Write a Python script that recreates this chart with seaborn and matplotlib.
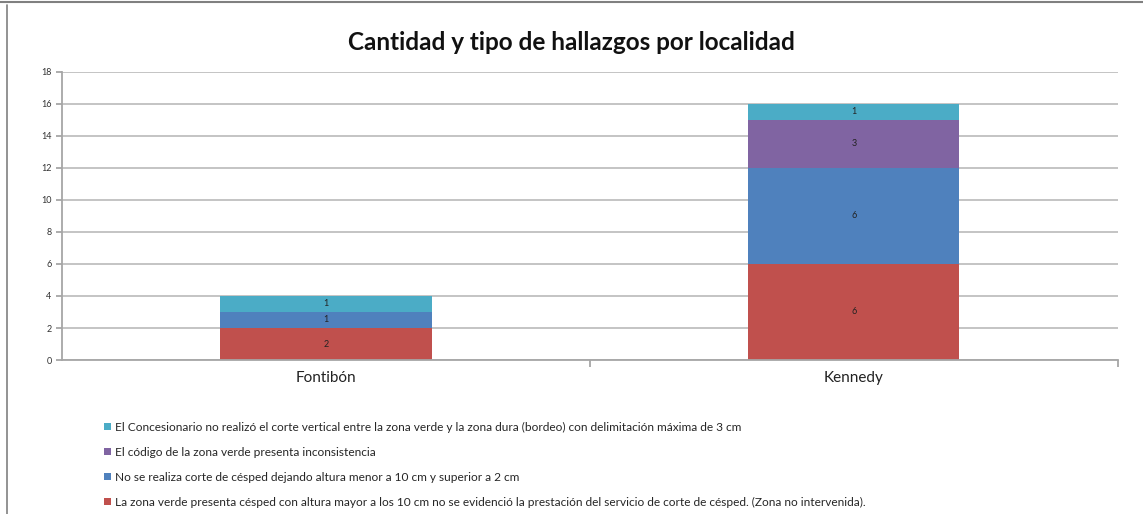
import matplotlib
matplotlib.use("Agg")
import matplotlib.pyplot as plt
from matplotlib.lines import Line2D
import pandas as pd
import seaborn as sns

# Datos
localidades = ["Fontibón", "Kennedy"]
series = [
    "La zona verde presenta césped con altura mayor a los 10 cm no se evidenció la prestación del servicio de corte de césped. (Zona no intervenida).",
    "No se realiza corte de césped dejando altura menor a 10 cm y superior a 2 cm",
    "El código de la zona verde presenta inconsistencia",
    "El Concesionario no realizó el corte vertical entre la zona verde y la zona dura (bordeo) con delimitación máxima de 3 cm",
]
valores_rojo = [2, 6]
valores_azul = [1, 6]
valores_morado = [0, 3]
valores_cian = [1, 1]
colores = ["#C0504D", "#4F81BD", "#8064A2", "#4BACC6"]

sns.set_theme(style="white")
plt.rcParams["font.family"] = ["Lato", "DejaVu Sans"]

df = pd.DataFrame({"localidad": localidades})
valores = [valores_rojo, valores_azul, valores_morado, valores_cian]
acum = [0, 0]
for serie, vals in zip(series, valores):
    acum = [a + v for a, v in zip(acum, vals)]
    df[serie] = acum

fig = plt.figure(figsize=(11.43, 5.14), dpi=100)
ax = fig.add_axes([0.0542, 0.2996, 0.9238, 0.5604])

# Barras apiladas: se dibuja primero la acumulada más alta
for serie, color in reversed(list(zip(series, colores))):
    sns.barplot(data=df, x="localidad", y=serie, color=color, width=0.4,
                linewidth=0, saturation=1, ax=ax, label=serie)
if ax.get_legend() is not None:
    ax.get_legend().remove()

# Etiquetas de datos centradas en cada segmento
base = [0, 0]
for vals in valores:
    for i, v in enumerate(vals):
        if v > 0:
            ax.text(i, base[i] + v / 2, str(v), ha="center", va="center",
                    fontsize=6.5, color="#222222")
    base = [b + v for b, v in zip(base, vals)]

ax.set_ylim(0, 18)
ax.set_xlim(-0.5, 1.5)
ax.set_yticks(range(0, 19, 2))
ax.yaxis.grid(True, color="#BFBFBF", linewidth=1.3)
ax.set_axisbelow(True)
ax.set_xlabel("")
ax.set_ylabel("")
for s in ["top", "right"]:
    ax.spines[s].set_visible(False)
for s in ["left", "bottom"]:
    ax.spines[s].set_color("#A6A6A6")
    ax.spines[s].set_linewidth(1.3)
ax.tick_params(axis="y", labelsize=6.5, colors="#A6A6A6", length=4, width=1.3,
               labelcolor="#333333", left=True, direction="out")
ax.tick_params(axis="x", labelsize=11, length=0, labelcolor="#222222", pad=8)
# marcas del eje x entre categorías (estilo Excel)
ax.set_xticks([0.5, 1.5], minor=True)
ax.tick_params(axis="x", which="minor", length=5, width=1.3, color="#A6A6A6",
               bottom=True, direction="out")

fig.text(0.5, 0.918, "Cantidad y tipo de hallazgos por localidad",
         ha="center", va="center", fontsize=17.5, fontweight="bold", color="#111111")

handles, labels = ax.get_legend_handles_labels()
fig.legend(handles, labels, loc="upper left", bbox_to_anchor=(0.087, 0.189),
           frameon=False, fontsize=8.6, handlelength=0.55, handleheight=0.55,
           handletextpad=0.35, labelspacing=1.17, borderaxespad=0)

# marco de la captura
fig.add_artist(Line2D([0, 1], [0.996, 0.996], transform=fig.transFigure,
                      color="#808080", linewidth=1.5))
fig.add_artist(Line2D([0.0065, 0.0065], [0, 0.99], transform=fig.transFigure,
                      color="#808080", linewidth=1.2))

fig.savefig("out.png", dpi=100)
